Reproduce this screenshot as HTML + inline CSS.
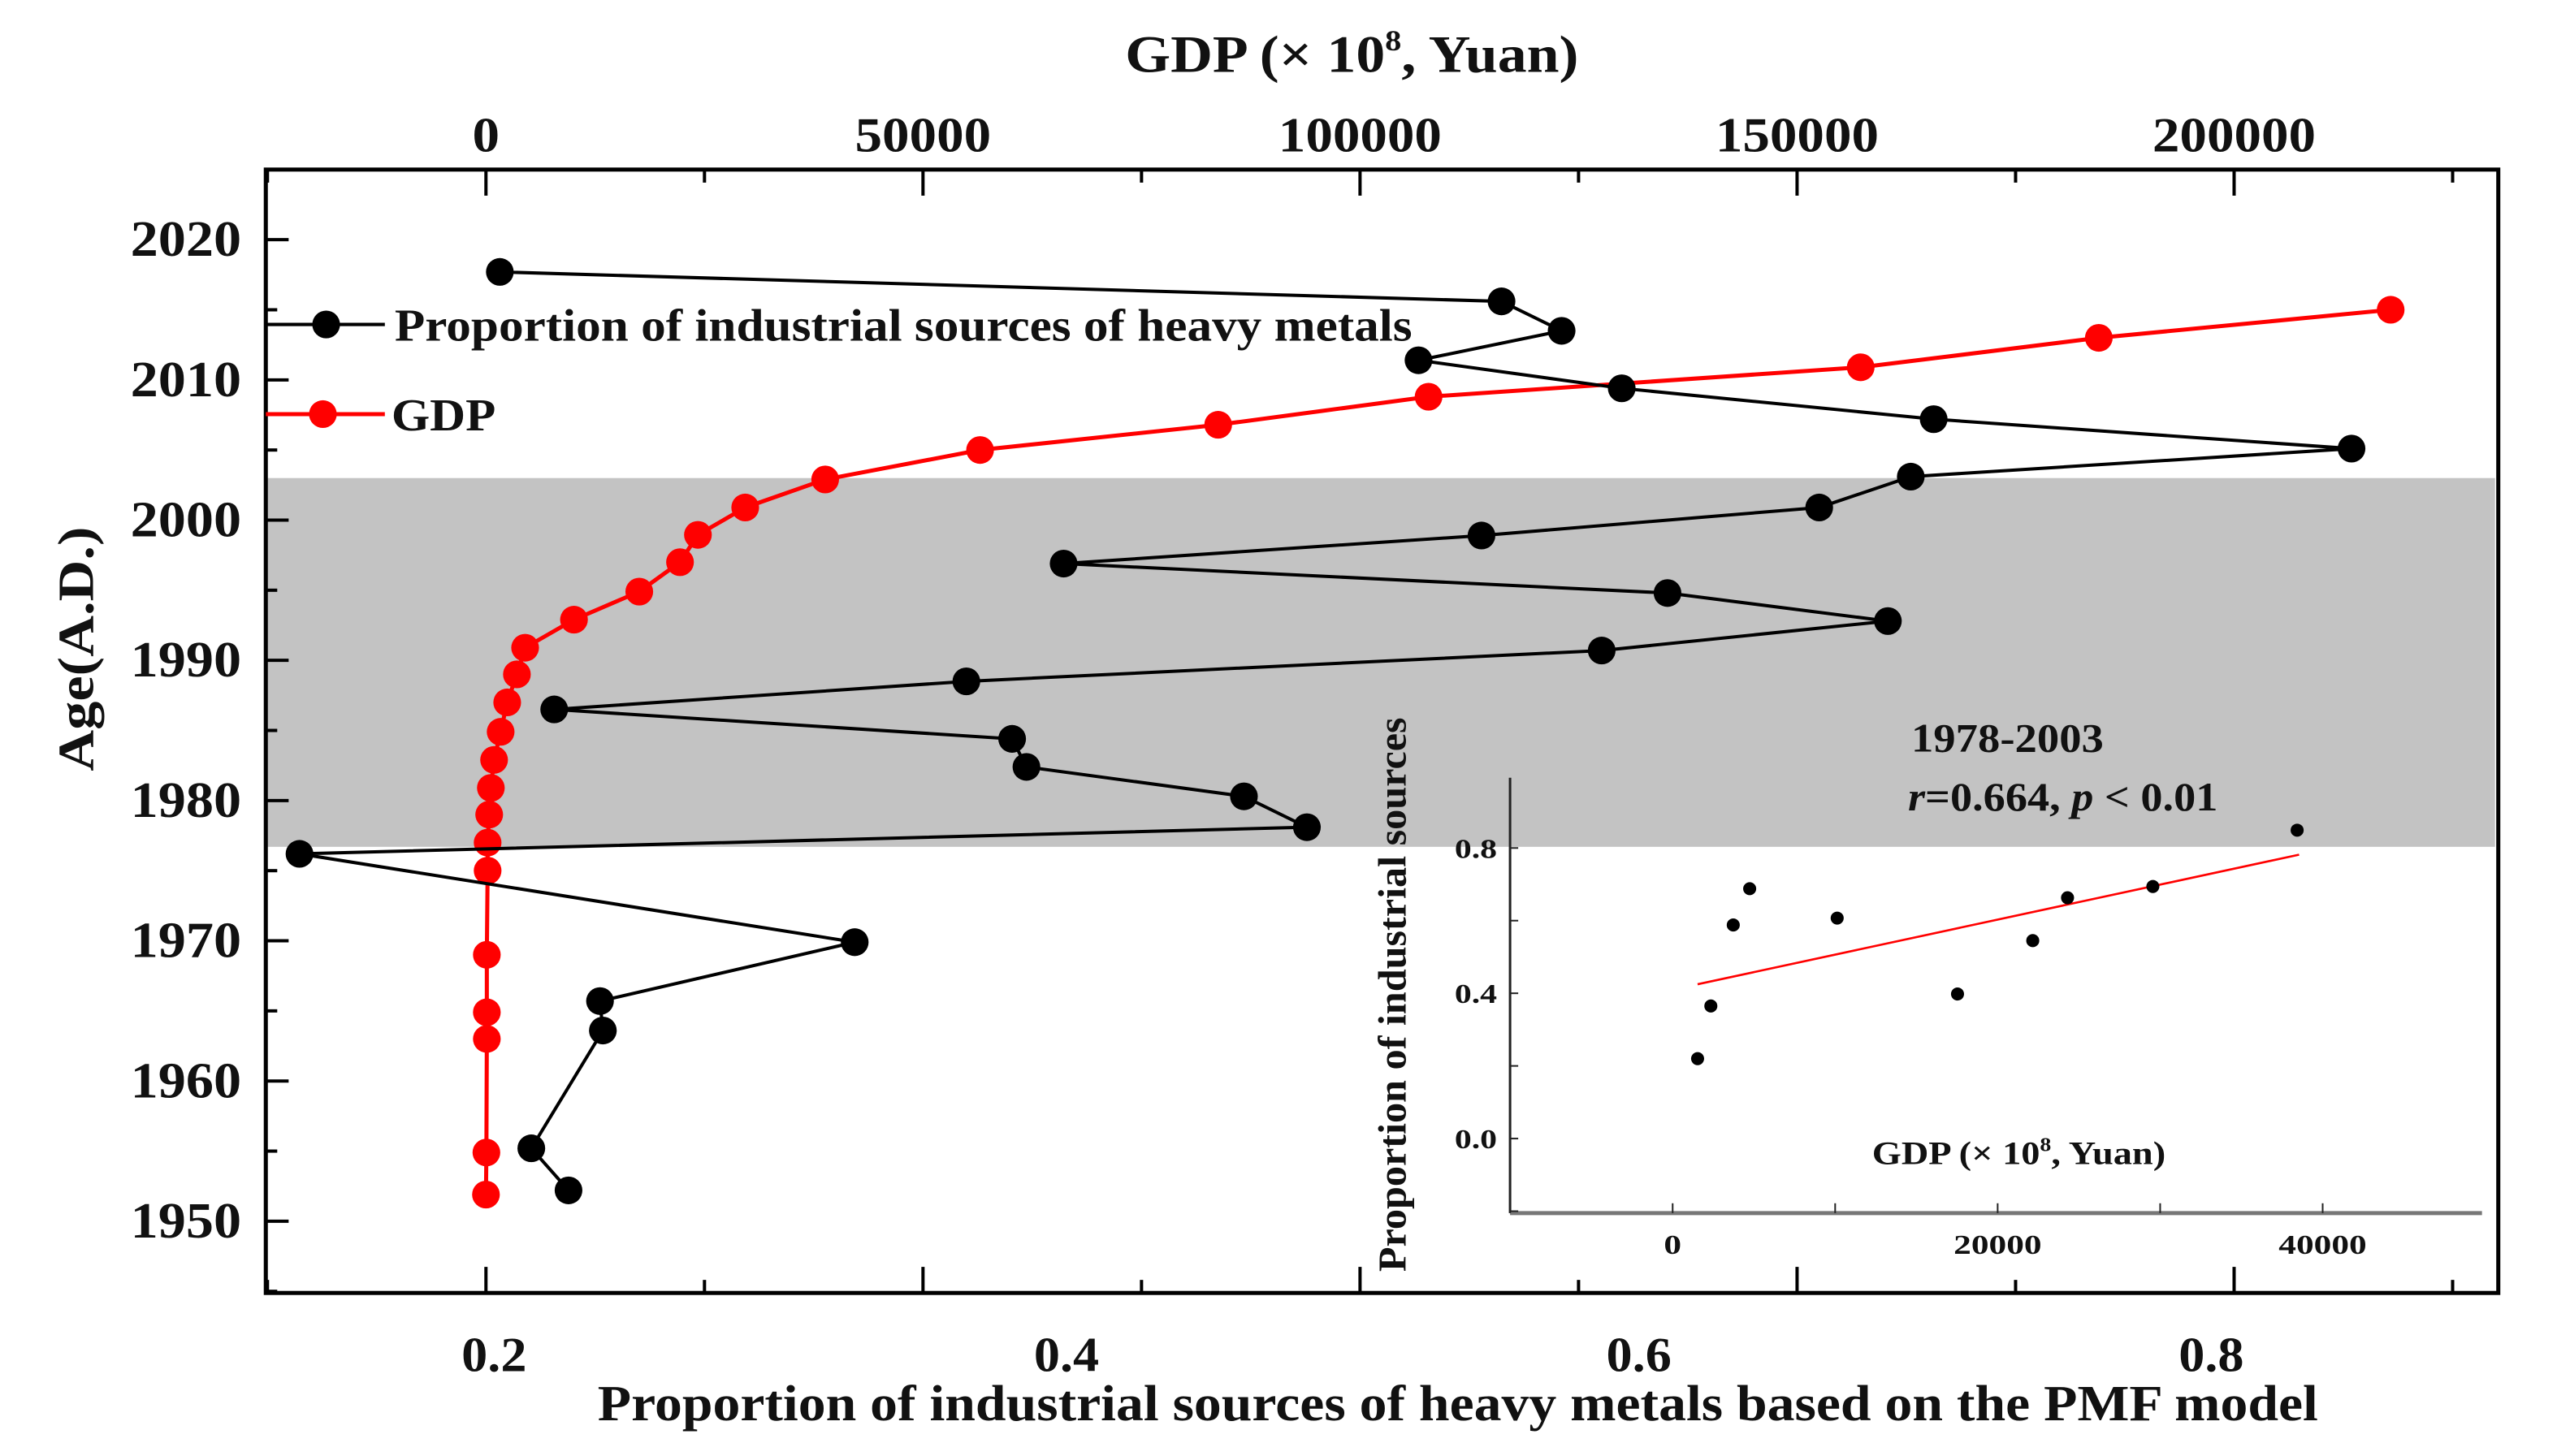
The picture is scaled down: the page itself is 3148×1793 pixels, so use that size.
<!DOCTYPE html>
<html><head><meta charset="utf-8"><style>
html,body{margin:0;padding:0;background:#fff;}
svg{display:block;}
text{font-family:"Liberation Serif",serif;font-weight:bold;fill:#111;}
</style></head><body>
<svg id="chart" width="3148" height="1793" viewBox="0 0 1568 893" preserveAspectRatio="none" xmlns="http://www.w3.org/2000/svg"></svg>
<script>
// Main series: proportion of industrial sources vs year
const propYears = [2017.7,2015.6,2013.5,2011.4,2009.4,2007.2,2005.1,2003.1,2000.9,1998.9,1996.9,1994.8,1992.8,1990.7,1988.5,1986.5,1984.4,1982.4,1980.3,1978.1,1976.2,1969.9,1965.7,1963.6,1955.2,1952.2];
const propValues = [0.202,0.552,0.573,0.523,0.594,0.703,0.849,0.695,0.663,0.545,0.399,0.610,0.687,0.587,0.365,0.221,0.381,0.386,0.462,0.484,0.132,0.326,0.237,0.238,0.213,0.226];
// GDP series vs year
const gdpYears = [2015,2013,2010.9,2008.8,2006.8,2005,2002.9,2000.9,1998.95,1997,1994.9,1992.9,1990.9,1989,1987,1984.9,1982.9,1980.9,1979,1977,1975,1969,1964.9,1963,1954.9,1951.9];
const gdpValues = [217910,184520,157280,107840,83770,56530,38810,29660,24250,22200,17540,10070,4480,3540,2430,1680,930,560,370,190,190,100,100,100,50,0];
// Shaded period
const bandYears = [1976.7,2003];
// Axis ticks
const yearTicks = [1950,1960,1970,1980,1990,2000,2010,2020];
const gdpTicks = [0,50000,100000,150000,200000];
const propTicks = [0.2,0.4,0.6,0.8];
// Inset scatter
const insetGdp = [1535,2350,3730,4740,10125,17530,22160,24300,29550,38430];
const insetProp = [0.220,0.365,0.588,0.688,0.607,0.398,0.545,0.663,0.694,0.849];
const insetFit = [9.64e-6, 0.410]; // slope, intercept
const insetFitRange = [1535,38550];
const insetXTicks = [0,20000,40000];
const insetYTicks = [0.0,0.4,0.8];

const NS="http://www.w3.org/2000/svg";
const svg=document.getElementById('chart');
function mk(tag,attrs,parent){const e=document.createElementNS(NS,tag);for(const k in attrs)e.setAttribute(k,attrs[k]);(parent||svg).appendChild(e);return e;}
function txt(s,attrs,tl){const e=mk('text',attrs);e.textContent=s;if(tl){e.setAttribute('textLength',tl);e.setAttribute('lengthAdjust','spacingAndGlyphs');}return e;}

const L=163,R=1532,T=104,B=793;
const yY=y=>749-(y-1950)*8.6;
const xP=v=>303+(v-0.2)*1755;
const xG=g=>298+g*268/50000;
const ixG=g=>1025.7+g*199.3/20000;
const iyP=p=>698.3-p*89.1/0.4;

let e=mk('rect',{x:L,y:yY(bandYears[1]),width:R-L-2,height:yY(bandYears[0])-yY(bandYears[1]),fill:'#c3c3c3'});



e=mk('rect',{x:L,y:T,width:R-L,height:B-T,fill:'none',stroke:'#000','stroke-width':2.5});



for(let y=1945;y<=2025;y+=5){const yy=yY(y);if(yy<T||yy>B)continue;const maj=y%10===0;
 mk('line',{x1:L,x2:L+(maj?14:7),y1:yy,y2:yy,stroke:'#000','stroke-width':2});}
yearTicks.forEach(y=>{e=txt(String(y),{x:148,y:yY(y)+10,'text-anchor':'end','font-size':31},68);
 
 });
e=txt('Age(A.D.)',{x:0,y:0,'font-size':31,'text-anchor':'middle',transform:'translate(57,398) rotate(-90)'},150);



for(let g=-25000;g<=225000;g+=25000){const xx=xG(g);if(xx<L||xx>R)continue;const maj=g%50000===0;
 mk('line',{x1:xx,x2:xx,y1:T,y2:T+(maj?16:8),stroke:'#000','stroke-width':2});
 mk('line',{x1:xx,x2:xx,y1:B,y2:B-(maj?16:8),stroke:'#000','stroke-width':2});}
gdpTicks.forEach(g=>{const s=String(g);e=txt(s,{x:xG(g),y:93,'text-anchor':'middle','font-size':30},s.length*16.7);
 
 });
e=mk('text',{x:829,y:44,'text-anchor':'middle','font-size':32,textLength:278,lengthAdjust:'spacingAndGlyphs'});
e.innerHTML='GDP (×  10<tspan dy="-13" font-size="18">8</tspan><tspan dy="13">, Yuan)</tspan>';


propTicks.forEach(v=>{e=txt(v.toFixed(1),{x:xP(v),y:841,'text-anchor':'middle','font-size':30},40);
 
 });
e=txt('Proportion of industrial sources of heavy metals based on the PMF model',{x:894,y:871,'text-anchor':'middle','font-size':31},1055);



e=mk('polyline',{points:gdpValues.map((g,i)=>xG(g)+','+yY(gdpYears[i])).join(' '),fill:'none',stroke:'#f00','stroke-width':2.5});


gdpValues.forEach((g,i)=>{const c=mk('circle',{cx:xG(g),cy:yY(gdpYears[i]),r:8.5,fill:'#f00'});
 
 });

e=mk('polyline',{points:propValues.map((v,i)=>xP(v)+','+yY(propYears[i])).join(' '),fill:'none',stroke:'#000','stroke-width':2});


propValues.forEach((v,i)=>{const c=mk('circle',{cx:xP(v),cy:yY(propYears[i]),r:8.5,fill:'#000'});
 
 });

mk('line',{x1:163,x2:236,y1:199,y2:199,stroke:'#000','stroke-width':2});
mk('circle',{cx:200,cy:199,r:8.5,fill:'#000'});
e=txt('Proportion of industrial sources of heavy metals',{x:242,y:209,'font-size':28},624);


mk('line',{x1:163,x2:236,y1:254,y2:254,stroke:'#f00','stroke-width':2.5});
mk('circle',{cx:198,cy:254,r:8.5,fill:'#f00'});
e=txt('GDP',{x:240,y:264,'font-size':28},64);



const iL=926,iR=1522,iT=477,iB=744;
e=mk('line',{x1:iL,x2:iL,y1:iT,y2:iB,stroke:'#222','stroke-width':1.5});


e=mk('line',{x1:iL,x2:iR,y1:iB,y2:iB,stroke:'#777','stroke-width':2.5});


for(let p=-0.2;p<=1.01;p+=0.2){const yy=iyP(p);if(yy<iT||yy>iB)continue;mk('line',{x1:iL,x2:iL+5,y1:yy,y2:yy,stroke:'#222','stroke-width':1});}
for(let g=-10000;g<=50000;g+=10000){const xx=ixG(g);if(xx<iL||xx>iR)continue;mk('line',{x1:xx,x2:xx,y1:iB,y2:iB-6,stroke:'#222','stroke-width':1});}
insetYTicks.forEach(p=>{e=txt(p.toFixed(1),{x:918,y:iyP(p)+6,'text-anchor':'end','font-size':17},26);
 
 });
insetXTicks.forEach(g=>{const s=String(g);e=txt(s,{x:ixG(g),y:769,'text-anchor':'middle','font-size':17},s.length*10.8);
 
 });
e=txt('Proportion of industrial sources',{x:0,y:0,'text-anchor':'middle','font-size':24,transform:'translate(862,610) rotate(-90)'},340);


e=mk('text',{x:1238,y:714,'text-anchor':'middle','font-size':20,textLength:180,lengthAdjust:'spacingAndGlyphs'});
e.innerHTML='GDP (×  10<tspan dy="-8" font-size="12">8</tspan><tspan dy="8">, Yuan)</tspan>';


e=txt('1978-2003',{x:1231,y:461,'text-anchor':'middle','font-size':25},118);


e=mk('text',{x:1265,y:497,'text-anchor':'middle','font-size':25,textLength:190,lengthAdjust:'spacingAndGlyphs'});
e.innerHTML='<tspan font-style="italic">r</tspan>=0.664, <tspan font-style="italic">p</tspan> &lt; 0.01';


e=mk('line',{x1:ixG(insetFitRange[0]),y1:iyP(insetFit[0]*insetFitRange[0]+insetFit[1]),x2:ixG(insetFitRange[1]),y2:iyP(insetFit[0]*insetFitRange[1]+insetFit[1]),stroke:'#f00','stroke-width':1.3});


insetGdp.forEach((g,i)=>{const c=mk('circle',{cx:ixG(g),cy:iyP(insetProp[i]),r:4,fill:'#000'});
 
 });
</script>
</body></html>
